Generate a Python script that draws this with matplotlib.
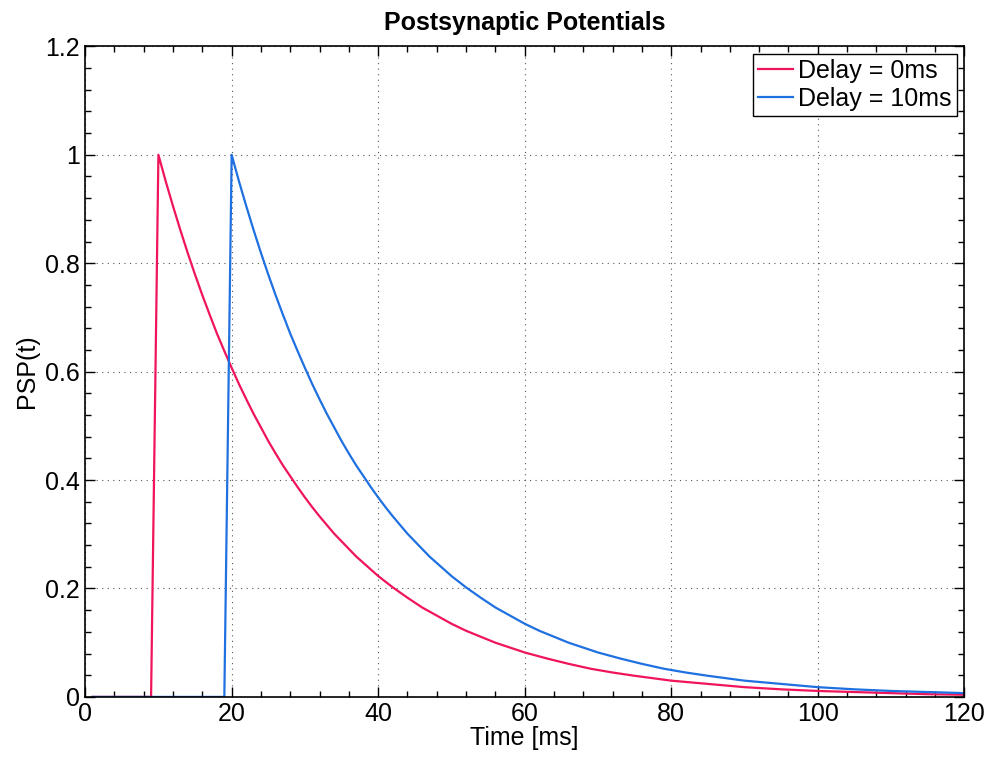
import numpy as np
import matplotlib
matplotlib.use('Agg')
import matplotlib.pyplot as plt
from matplotlib.ticker import MultipleLocator

plt.rcParams['font.family'] = ['Liberation Sans', 'DejaVu Sans']

############################################
# data
# decay of each PSP after its peak (ms after peak, value)
d_after = [0, 1, 2, 3, 4, 5, 6, 7, 8, 9, 10, 11, 12, 13, 14, 15, 16, 17, 18,
           19, 20, 21, 22, 23, 24, 25, 26, 27, 28, 29, 30, 32, 34, 36, 38, 40,
           42, 44, 46, 48, 50, 53, 56, 59, 62, 65, 70, 75, 80, 85, 90, 95,
           100, 105, 110]
psp_decay = [1.000, 0.951, 0.905, 0.861, 0.819, 0.779, 0.741, 0.705, 0.670,
             0.638, 0.607, 0.577, 0.549, 0.522, 0.497, 0.472, 0.449, 0.427,
             0.407, 0.387, 0.368, 0.350, 0.333, 0.317, 0.301, 0.287, 0.273,
             0.259, 0.247, 0.235, 0.223, 0.202, 0.183, 0.165, 0.150, 0.135,
             0.122, 0.111, 0.100, 0.091, 0.082, 0.071, 0.061, 0.052, 0.045,
             0.039, 0.030, 0.024, 0.018, 0.014, 0.011, 0.009, 0.007, 0.005,
             0.004]

peaks = [10, 20]          # peak time of each curve [ms]
t_start = 1               # first sample
t_end = 120
labels = ['Delay = 0ms', 'Delay = 10ms']
colors = ['#f0145a', '#1f70e0']

#############################################
## Plotting Data
fig, ax = plt.subplots(figsize=(9.9, 7.6), dpi=100)
fig.subplots_adjust(left=0.086, right=0.974, top=0.939, bottom=0.083)

for peak, lab, col in zip(peaks, labels, colors):
    t = [t_start, peak - 1] + [peak + d for d in d_after if peak + d <= t_end]
    y = [0, 0] + [v for d, v in zip(d_after, psp_decay) if peak + d <= t_end]
    ax.plot(t, y, color=col, lw=1.6, label=lab)

# scales
ax.set_xlim(0, 120)
ax.set_ylim(0, 1.2)
ax.xaxis.set_major_locator(MultipleLocator(20))
ax.xaxis.set_minor_locator(MultipleLocator(4))
ax.yaxis.set_minor_locator(MultipleLocator(0.04))
ax.set_yticks([0, 0.2, 0.4, 0.6, 0.8, 1.0, 1.2])
ax.set_yticklabels(['0', '0.2', '0.4', '0.6', '0.8', '1', '1.2'])

ax.tick_params(which='both', direction='in', top=True, right=True,
               labelsize=18, pad=4)
ax.tick_params(which='major', length=7, width=1)
ax.tick_params(which='minor', length=4, width=1)
for s in ax.spines.values():
    s.set_linewidth(1.2)

ax.grid(True, which='major', linestyle=(0, (1, 4)), color='#555555', lw=0.8)

# options
ax.set_xlabel('Time [ms]', fontsize=18, labelpad=0)
ax.set_ylabel('PSP(t)', fontsize=18, labelpad=4)
ax.set_title('Postsynaptic Potentials', fontsize=18, fontweight='bold', pad=12)

leg = ax.legend(loc='upper right', fontsize=18, fancybox=False, framealpha=1,
                edgecolor='black', handlelength=1.4, handletextpad=0.2,
                borderpad=0.2, labelspacing=0.15, borderaxespad=0.3)
leg.get_frame().set_linewidth(1.0)

fig.savefig('out.png', dpi=100)
